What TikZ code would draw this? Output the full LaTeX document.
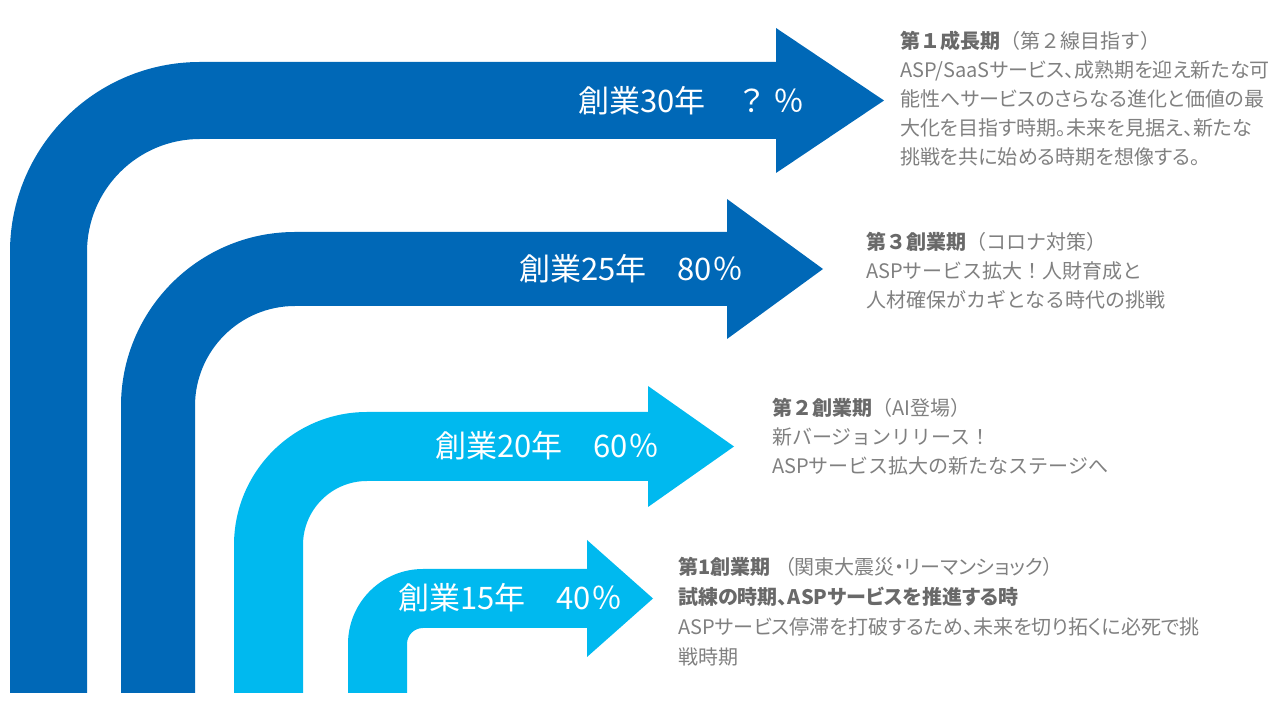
\documentclass[tikz,border=0pt]{standalone}
\usepackage{fontspec}
\setmainfont{Noto Sans CJK JP}
\newfontfamily\jp{Noto Sans CJK JP}
\newfontfamily\jpp[RawFeature=+palt]{Noto Sans CJK JP}
\definecolor{darkblue}{RGB}{0,104,183}
\definecolor{lightblue}{RGB}{0,185,239}
\definecolor{txtgray}{RGB}{128,128,128}
\definecolor{headgray}{RGB}{105,105,105}
\tikzset{
  arrowdark/.style={fill=darkblue, draw=none},
  arrowlight/.style={fill=lightblue, draw=none},
  arrowlabel/.style={text=white, font=\jp\fontsize{31}{31}\selectfont, anchor=west, inner sep=0pt},
  desc/.style={text=txtgray, anchor=base west, inner sep=0pt, align=left, text width=600pt},
}
\newcommand{\hd}[1]{{\bfseries\color{headgray}#1}}
\begin{document}
\begin{tikzpicture}[x=1pt,y=1pt]
\useasboundingbox (0,0) rectangle (1280,720);
% arrows
\fill[arrowdark] (10,27) -- (10,468) arc[start angle=180,end angle=90,radius=190pt] -- (776,658) -- (776,692) -- (884,619.5) -- (776,547) -- (776,581) -- (200,581) arc[start angle=90,end angle=180,radius=113pt] -- (87,27) -- cycle;
\fill[arrowdark] (121,27) -- (121,314) arc[start angle=180,end angle=90,radius=174pt] -- (727,488) -- (727,521) -- (823,451) -- (727,381) -- (727,414) -- (295,414) arc[start angle=90,end angle=180,radius=100pt] -- (195,27) -- cycle;
\fill[arrowlight] (234,27) -- (234,175) arc[start angle=180,end angle=90,radius=133pt] -- (648,308) -- (648,334) -- (734,273.5) -- (648,213) -- (648,239) -- (367,239) arc[start angle=90,end angle=180,radius=64pt] -- (303,27) -- cycle;
\fill[arrowlight] (348,27) -- (348,76) arc[start angle=180,end angle=90,radius=75pt] -- (587,151) -- (587,180) -- (653,121.5) -- (587,63) -- (587,92) -- (423,92) arc[start angle=90,end angle=180,radius=16pt] -- (407,27) -- cycle;
% arrow labels
\node[arrowlabel] (l30) at (578,619) {創業30年　？\hspace{6pt}％};
\node[arrowlabel] (l25) at (519,451) {創業25年　80％};
\node[arrowlabel] (l20) at (435,274) {創業20年　60％};
\node[arrowlabel] (l15) at (398,122) {創業15年　40％};
% descriptions
\node[desc, font=\jpp\fontsize{20}{29}\selectfont] (d1) at (900,671) {{\jp\hd{第１成長期}（第２線目指す）}\\
ASP/SaaSサービス、成熟期を迎え新たな可\\
能性へサービスのさらなる進化と価値の最\\
大化を目指す時期。未来を見据え、新たな\\
挑戦を共に始める時期を想像する。};
\node[desc, font=\jp\fontsize{20}{29}\selectfont] (d2) at (866,470) {\hd{第３創業期}（コロナ対策）\\
ASPサービス拡大！人財育成と\\
人材確保がカギとなる時代の挑戦};
\node[desc, font=\jp\fontsize{20}{29}\selectfont] (d3) at (772,304) {\hd{第２創業期}（AI登場）\\
新バージョンリリース！\\
ASPサービス拡大の新たなステージへ};
\node[desc, font=\jpp\fontsize{20}{30}\selectfont] (d4) at (678,145) {\hd{第1創業期}\hspace{14pt}（関東大震災・リーマンショック）\\
\hd{試練の時期、ASPサービスを推進する時}\\
ASPサービス停滞を打破するため、未来を切り拓くに必死で挑\\
戦時期};
\end{tikzpicture}
\end{document}
